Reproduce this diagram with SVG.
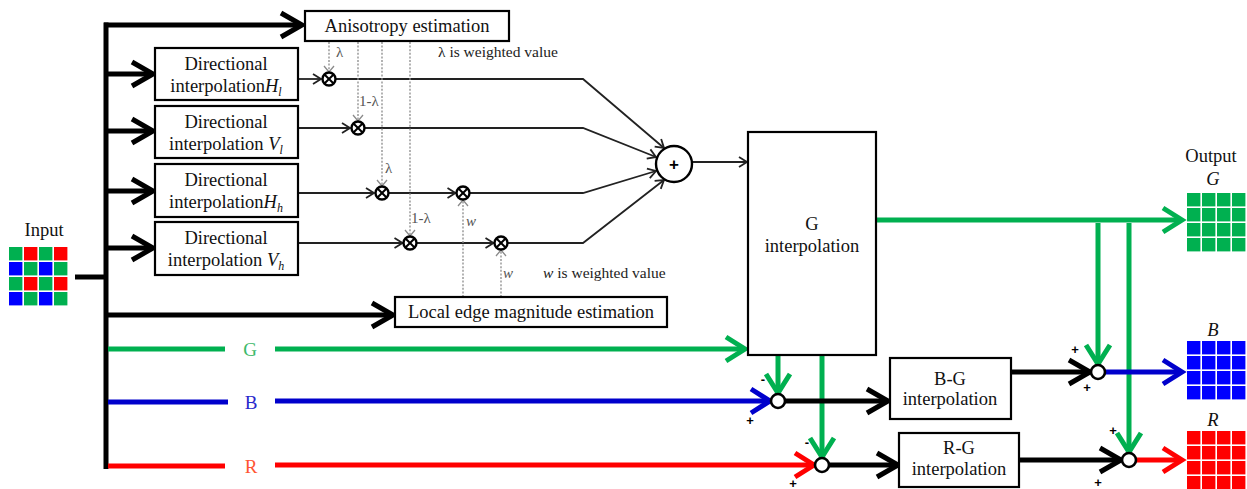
<svg xmlns="http://www.w3.org/2000/svg" width="1247" height="489" viewBox="0 0 1247 489">
  <style>
    .box { fill: #fff; stroke: #000; stroke-width: 2.2; }
    .lbl { font-family: "Liberation Serif", "Times New Roman", serif; font-size: 18.5px; fill: #111; text-anchor: middle; }
    .sm { font-family: "Liberation Serif", "Times New Roman", serif; font-size: 15.5px; fill: #222; }
    .wt { font-family: "Liberation Serif", "Times New Roman", serif; font-size: 15px; fill: #555; }
    .ch { font-family: "Liberation Serif", "Times New Roman", serif; font-size: 19px; text-anchor: middle; }
    .sign { font-family: "Liberation Sans", Arial, sans-serif; font-size: 13px; font-weight: bold; fill: #000; text-anchor: middle; }
    .thick { fill: none; stroke-width: 5; stroke-linecap: butt; }
    .thin { fill: none; stroke: #222; stroke-width: 1.8; }
    .dash { fill: none; stroke: #8a8a8a; stroke-width: 1.3; stroke-dasharray: 2 1.6; }
    .mul { fill: #fff; stroke: #000; stroke-width: 2.4; }
    .sum { fill: #fff; stroke: #000; stroke-width: 2.6; }
    .k { stroke: #000; }
    .g { stroke: #00b050; }
    .b { stroke: #0000cc; }
    .r { stroke: #ff0000; }
  </style>
  <defs>
    <marker id="ak" markerUnits="userSpaceOnUse" viewBox="-26 -16 30 32" markerWidth="30" markerHeight="32" refX="0" refY="0" orient="auto" overflow="visible">
      <path d="M-21,-12 L0,0 L-21,12" fill="none" stroke="#000" stroke-width="5"/>
    </marker>
    <marker id="ag" markerUnits="userSpaceOnUse" viewBox="-26 -16 30 32" markerWidth="30" markerHeight="32" refX="0" refY="0" orient="auto" overflow="visible">
      <path d="M-19,-12 L0,0 L-19,12" fill="none" stroke="#00b050" stroke-width="5"/>
    </marker>
    <marker id="ab" markerUnits="userSpaceOnUse" viewBox="-26 -16 30 32" markerWidth="30" markerHeight="32" refX="0" refY="0" orient="auto" overflow="visible">
      <path d="M-19,-12 L0,0 L-19,12" fill="none" stroke="#0000cc" stroke-width="5"/>
    </marker>
    <marker id="ar" markerUnits="userSpaceOnUse" viewBox="-26 -16 30 32" markerWidth="30" markerHeight="32" refX="0" refY="0" orient="auto" overflow="visible">
      <path d="M-19,-12 L0,0 L-19,12" fill="none" stroke="#ff0000" stroke-width="5"/>
    </marker>
    <marker id="at" markerUnits="userSpaceOnUse" viewBox="-12 -8 14 16" markerWidth="14" markerHeight="16" refX="0" refY="0" orient="auto" overflow="visible">
      <path d="M-8,-5 L0,0 L-8,5" fill="none" stroke="#222" stroke-width="1.8"/>
    </marker>
    <marker id="ad" markerUnits="userSpaceOnUse" viewBox="-10 -8 12 16" markerWidth="12" markerHeight="16" refX="0" refY="0" orient="auto" overflow="visible">
      <path d="M-6,-5 L0,0 L-6,5" fill="none" stroke="#8a8a8a" stroke-width="1.3"/>
    </marker>
    <!-- multiplier symbol: circle with a cross -->
    <g id="mulsym">
      <circle r="6.5" class="mul"/>
      <path d="M-4.3,-4.3 L4.3,4.3 M-4.3,4.3 L4.3,-4.3" stroke="#000" stroke-width="2"/>
    </g>
    <!-- single pixel of a 4x4 colour plane -->
    <rect id="px" width="13.4" height="13.4"/>
  </defs>

  <rect width="1247" height="489" fill="#fff"/>

  <!-- connectors -->
  <g id="connectors">
    <!-- input bus -->
    <path class="thick k" d="M75,277 H106"/>
    <path class="thick k" d="M106,22.5 V469"/>
    <path class="thick k" d="M104,25 H302" marker-end="url(#ak)"/>
    <path class="thick k" d="M106,74 H153" marker-end="url(#ak)"/>
    <path class="thick k" d="M106,131 H153" marker-end="url(#ak)"/>
    <path class="thick k" d="M106,191 H153" marker-end="url(#ak)"/>
    <path class="thick k" d="M106,248 H153" marker-end="url(#ak)"/>
    <path class="thick k" d="M106,315 H393" marker-end="url(#ak)"/>

    <!-- colour channel lines -->
    <path class="thick g" d="M108,349 H225"/>
    <path class="thick g" d="M275,349 H745" marker-end="url(#ag)"/>
    <path class="thick b" d="M108,402 H228"/>
    <path class="thick b" d="M275,401 H770" marker-end="url(#ab)"/>
    <path class="thick r" d="M108,466 H225"/>
    <path class="thick r" d="M275,465 H814" marker-end="url(#ar)"/>

    <!-- directional outputs into multipliers -->
    <path class="thin" d="M298,79 H321" marker-end="url(#at)"/>
    <path class="thin" d="M298,128 H350" marker-end="url(#at)"/>
    <path class="thin" d="M298,193 H374" marker-end="url(#at)"/>
    <path class="thin" d="M388.5,193 H455.5" marker-end="url(#at)"/>
    <path class="thin" d="M298,243 H402.5" marker-end="url(#at)"/>
    <path class="thin" d="M416.5,243 H493.5" marker-end="url(#at)"/>

    <!-- products into the adder -->
    <path class="thin" d="M335.5,79 H583 L664,148" marker-end="url(#at)"/>
    <path class="thin" d="M364.5,128 H583 L656,157" marker-end="url(#at)"/>
    <path class="thin" d="M469.5,193 H583 L656,171" marker-end="url(#at)"/>
    <path class="thin" d="M507.5,243 H583 L664,180" marker-end="url(#at)"/>
    <path class="thin" d="M692,162 H747" marker-end="url(#at)"/>

    <!-- weights from anisotropy estimation -->
    <path class="dash" d="M329,42 V72" marker-end="url(#ad)"/>
    <path class="dash" d="M358,42 V121" marker-end="url(#ad)"/>
    <path class="dash" d="M382,42 V186" marker-end="url(#ad)"/>
    <path class="dash" d="M410,42 V236" marker-end="url(#ad)"/>
    <!-- weights from local edge magnitude estimation -->
    <path class="dash" d="M463,297 V200" marker-end="url(#ad)"/>
    <path class="dash" d="M501,297 V250" marker-end="url(#ad)"/>

    <!-- G output and green feeds -->
    <path class="thick g" d="M876,220 H1182" marker-end="url(#ag)"/>
    <path class="thick g" d="M1098,223 V364" marker-end="url(#ag)"/>
    <path class="thick g" d="M1129,223 V452" marker-end="url(#ag)"/>
    <path class="thick g" d="M778,355 V393" marker-end="url(#ag)"/>
    <path class="thick g" d="M822,355 V457" marker-end="url(#ag)"/>

    <!-- colour difference paths -->
    <path class="thick k" d="M785,401 H888" marker-end="url(#ak)"/>
    <path class="thick k" d="M829,465 H898" marker-end="url(#ak)"/>
    <path class="thick k" d="M1011,372 H1090" marker-end="url(#ak)"/>
    <path class="thick k" d="M1019,460 H1121" marker-end="url(#ak)"/>
    <path class="thick b" d="M1105,372 H1182" marker-end="url(#ab)"/>
    <path class="thick r" d="M1136,460 H1182" marker-end="url(#ar)"/>
  </g>

  <!-- input mosaic -->
  <g id="input">
    <text class="lbl" x="44" y="236" font-size="17">Input</text>
    <g>
      <use href="#px" x="9" y="247" fill="#00b050"/><use href="#px" x="24" y="247" fill="#ff0000"/><use href="#px" x="39" y="247" fill="#00b050"/><use href="#px" x="54" y="247" fill="#ff0000"/>
      <use href="#px" x="9" y="262" fill="#0000ff"/><use href="#px" x="24" y="262" fill="#00b050"/><use href="#px" x="39" y="262" fill="#0000ff"/><use href="#px" x="54" y="262" fill="#00b050"/>
      <use href="#px" x="9" y="277" fill="#00b050"/><use href="#px" x="24" y="277" fill="#ff0000"/><use href="#px" x="39" y="277" fill="#00b050"/><use href="#px" x="54" y="277" fill="#ff0000"/>
      <use href="#px" x="9" y="292" fill="#0000ff"/><use href="#px" x="24" y="292" fill="#00b050"/><use href="#px" x="39" y="292" fill="#0000ff"/><use href="#px" x="54" y="292" fill="#00b050"/>
    </g>
  </g>

  <g id="anisotropy">
    <rect class="box" x="305" y="11" width="204" height="30"/>
    <text class="lbl" x="407" y="32">Anisotropy estimation</text>
  </g>

  <g id="dir-hl">
    <rect class="box" x="155" y="48" width="143" height="52"/>
    <text class="lbl" x="226" y="70">Directional</text>
    <text class="lbl" x="226" y="92">interpolation<tspan font-style="italic">H</tspan><tspan font-style="italic" font-size="12" dy="4">l</tspan></text>
  </g>
  <g id="dir-vl">
    <rect class="box" x="155" y="106" width="143" height="52"/>
    <text class="lbl" x="226" y="128">Directional</text>
    <text class="lbl" x="226" y="150">interpolation <tspan font-style="italic">V</tspan><tspan font-style="italic" font-size="12" dy="4">l</tspan></text>
  </g>
  <g id="dir-hh">
    <rect class="box" x="155" y="164" width="143" height="53"/>
    <text class="lbl" x="226" y="186">Directional</text>
    <text class="lbl" x="226" y="208">interpolation<tspan font-style="italic">H</tspan><tspan font-style="italic" font-size="12" dy="4">h</tspan></text>
  </g>
  <g id="dir-vh">
    <rect class="box" x="155" y="222" width="143" height="53"/>
    <text class="lbl" x="226" y="244">Directional</text>
    <text class="lbl" x="226" y="266">interpolation <tspan font-style="italic">V</tspan><tspan font-style="italic" font-size="12" dy="4">h</tspan></text>
  </g>

  <g id="edge-mag">
    <rect class="box" x="395" y="297" width="272" height="30"/>
    <text class="lbl" x="531" y="318">Local edge magnitude estimation</text>
  </g>

  <!-- multipliers and weights -->
  <g id="mul-1"><use href="#mulsym" x="329" y="79"/><text class="wt" x="336" y="57">λ</text></g>
  <g id="mul-2"><use href="#mulsym" x="358" y="128"/><text class="wt" x="359" y="106">1-λ</text></g>
  <g id="mul-3"><use href="#mulsym" x="382" y="193"/><text class="wt" x="385" y="173">λ</text></g>
  <g id="mul-4"><use href="#mulsym" x="463" y="193"/><text class="wt" x="466" y="226" font-style="italic">w</text></g>
  <g id="mul-5"><use href="#mulsym" x="410" y="243"/><text class="wt" x="411" y="223">1-λ</text></g>
  <g id="mul-6"><use href="#mulsym" x="501" y="243"/><text class="wt" x="503" y="278" font-style="italic">w</text></g>

  <g id="notes">
    <text class="sm" x="438" y="57">λ is weighted value</text>
    <text class="sm" x="543" y="278"><tspan font-style="italic">w</tspan>  is weighted value</text>
  </g>

  <g id="adder">
    <circle cx="674" cy="164" r="18" fill="#fff" stroke="#000" stroke-width="2.4"/>
    <text x="674" y="170" font-family="Liberation Sans, Arial, sans-serif" font-size="17" font-weight="bold" text-anchor="middle">+</text>
  </g>

  <g id="g-interp">
    <rect class="box" x="748" y="132" width="128" height="223"/>
    <text class="lbl" x="812" y="230">G</text>
    <text class="lbl" x="812" y="252">interpolation</text>
  </g>

  <g id="channel-labels">
    <text class="ch" x="250" y="356" fill="#3cb96a">G</text>
    <text class="ch" x="251" y="409" fill="#2a2acc">B</text>
    <text class="ch" x="251" y="473" fill="#ff5533">R</text>
  </g>

  <g id="sub-b">
    <circle class="sum" cx="778" cy="401" r="7"/>
    <text class="sign" x="763" y="384">-</text>
    <text class="sign" x="750" y="425">+</text>
  </g>
  <g id="sub-r">
    <circle class="sum" cx="822" cy="465" r="7"/>
    <text class="sign" x="807" y="447">-</text>
    <text class="sign" x="793" y="488">+</text>
  </g>

  <g id="bg-interp">
    <rect class="box" x="890" y="358" width="121" height="61"/>
    <text class="lbl" x="950" y="385">B-G</text>
    <text class="lbl" x="950" y="405">interpolation</text>
  </g>
  <g id="rg-interp">
    <rect class="box" x="899" y="433" width="120" height="54"/>
    <text class="lbl" x="959" y="454">R-G</text>
    <text class="lbl" x="959" y="475">interpolation</text>
  </g>

  <g id="add-b">
    <circle class="sum" cx="1098" cy="372" r="7"/>
    <text class="sign" x="1075" y="354">+</text>
    <text class="sign" x="1087" y="392">+</text>
  </g>
  <g id="add-r">
    <circle class="sum" cx="1129" cy="460" r="7"/>
    <text class="sign" x="1113" y="435">+</text>
    <text class="sign" x="1098" y="487">+</text>
  </g>

  <!-- output planes -->
  <g id="output-g" fill="#00b050">
    <text class="lbl" x="1211" y="162" font-size="16" fill="#111">Output</text>
    <text class="lbl" x="1213" y="185" font-size="13" font-style="italic" fill="#111">G</text>
    <use href="#px" x="1187" y="193"/><use href="#px" x="1202" y="193"/><use href="#px" x="1217" y="193"/><use href="#px" x="1232" y="193"/>
    <use href="#px" x="1187" y="208"/><use href="#px" x="1202" y="208"/><use href="#px" x="1217" y="208"/><use href="#px" x="1232" y="208"/>
    <use href="#px" x="1187" y="223"/><use href="#px" x="1202" y="223"/><use href="#px" x="1217" y="223"/><use href="#px" x="1232" y="223"/>
    <use href="#px" x="1187" y="238"/><use href="#px" x="1202" y="238"/><use href="#px" x="1217" y="238"/><use href="#px" x="1232" y="238"/>
  </g>
  <g id="output-b" fill="#0000ff">
    <text class="lbl" x="1213" y="336" font-size="13" font-style="italic" fill="#111">B</text>
    <use href="#px" x="1187" y="341"/><use href="#px" x="1202" y="341"/><use href="#px" x="1217" y="341"/><use href="#px" x="1232" y="341"/>
    <use href="#px" x="1187" y="356"/><use href="#px" x="1202" y="356"/><use href="#px" x="1217" y="356"/><use href="#px" x="1232" y="356"/>
    <use href="#px" x="1187" y="371"/><use href="#px" x="1202" y="371"/><use href="#px" x="1217" y="371"/><use href="#px" x="1232" y="371"/>
    <use href="#px" x="1187" y="386"/><use href="#px" x="1202" y="386"/><use href="#px" x="1217" y="386"/><use href="#px" x="1232" y="386"/>
  </g>
  <g id="output-r" fill="#ff0000">
    <text class="lbl" x="1213" y="426" font-size="13" font-style="italic" fill="#111">R</text>
    <use href="#px" x="1187" y="431"/><use href="#px" x="1202" y="431"/><use href="#px" x="1217" y="431"/><use href="#px" x="1232" y="431"/>
    <use href="#px" x="1187" y="446"/><use href="#px" x="1202" y="446"/><use href="#px" x="1217" y="446"/><use href="#px" x="1232" y="446"/>
    <use href="#px" x="1187" y="461"/><use href="#px" x="1202" y="461"/><use href="#px" x="1217" y="461"/><use href="#px" x="1232" y="461"/>
    <use href="#px" x="1187" y="476"/><use href="#px" x="1202" y="476"/><use href="#px" x="1217" y="476"/><use href="#px" x="1232" y="476"/>
  </g>
</svg>
